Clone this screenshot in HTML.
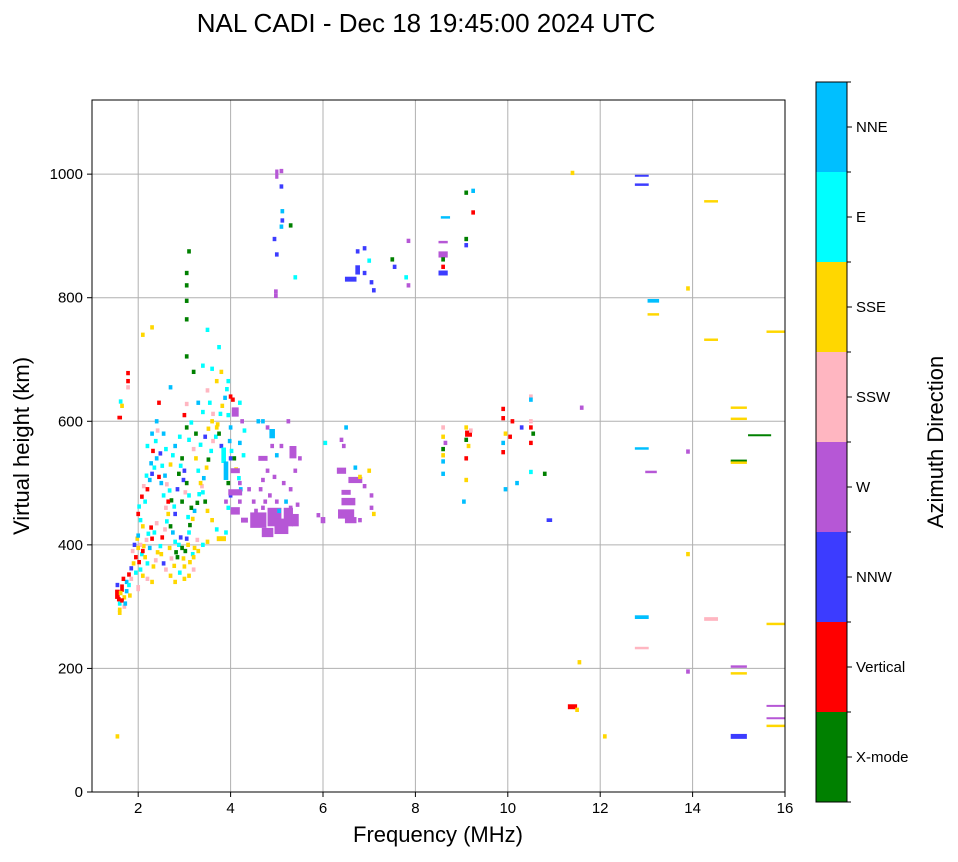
<!DOCTYPE html>
<html><head><meta charset="utf-8">
<style>
html,body{margin:0;padding:0;background:#fff;}
body{width:958px;height:857px;overflow:hidden;font-family:"Liberation Sans",sans-serif;}
</style></head>
<body>
<svg id="chart" width="958" height="857" xmlns="http://www.w3.org/2000/svg" font-family="Liberation Sans, sans-serif">
<text x="426" y="32" font-size="26" text-anchor="middle">NAL CADI - Dec 18 19:45:00 2024 UTC</text>
<g id="grid"></g>
<g id="marks"></g>
<rect x="92" y="100" width="693" height="692" fill="none" stroke="#000" stroke-width="1"/>
<g id="xticks"></g>
<g id="yticks"></g>
<text x="438" y="842" font-size="22" text-anchor="middle">Frequency (MHz)</text>
<text transform="translate(29,446) rotate(-90)" font-size="22" text-anchor="middle">Virtual height (km)</text>
<g id="cbar"></g>
<text transform="translate(943,442) rotate(-90)" font-size="22" text-anchor="middle">Azimuth Direction</text>
</svg>
<script>
const xTicks=[2,4,6,8,10,12,14,16];
const yTicks=[0,200,400,600,800,1000];
const categories=["X-mode","Vertical","NNW","W","SSW","SSE","E","NNE"];
const catColors=["#008000","#ff0000","#3c3cff","#b657d6","#ffb6c1","#ffd700","#00ffff","#00bfff"];
// [freq MHz, height km, category, widthMHz?, heightKm?]
const points=[
[1.55,320,1,0.1,15],[1.6,305,6],[1.6,295,5],[1.55,335,2],[1.65,330,1,0.08,12],[1.7,315,5],[1.6,290,5],[1.75,340,7],[1.8,352,1],[1.85,362,2],[1.7,300,4],[1.75,325,7],[1.8,335,6],[1.65,310,1],[1.9,370,5],[1.85,345,4],[1.95,380,1],[1.95,355,6],[2.0,330,4,0.08,10],[1.6,606,1,0.1,6],[1.62,632,6],[1.65,625,5],[1.78,678,1],[1.78,665,1],[1.78,655,4],[1.55,90,5],
[1.58,312,1],[1.62,322,5],[1.68,345,1],[1.72,305,7],[1.82,318,5],[1.88,390,4],[1.92,400,2],[1.98,410,5],[2.02,372,1],[2.08,385,6],[2.12,398,5],[2.18,408,4],[2.22,418,6],[2.28,428,1],[2.33,365,5],[2.38,375,4],[2.42,388,5],[2.48,398,6],[2.52,412,1],[2.58,425,4],[2.62,438,6],[2.68,395,5],[2.72,378,4],[2.78,366,5],[2.82,388,0],[2.88,400,6],[2.92,412,2],[2.98,378,5],[3.02,390,0],[3.08,400,5],[3.12,372,5],[3.18,385,6],[3.22,395,5],[3.28,408,4],[2.02,462,6],[2.08,478,1],[2.12,495,4],[2.18,512,6],[2.28,532,7],[2.32,552,1],[2.38,568,6],[2.42,585,4],[2.48,548,2],[2.52,528,6],[2.58,512,7],[2.62,498,4],[2.68,488,6],[2.72,472,0],[2.78,462,6],[2.88,515,0],[2.92,528,6],[2.98,505,2],[3.02,485,4],[3.08,445,6],[3.12,432,0],[3.18,442,5],[3.22,455,7],[3.28,468,0],[3.32,482,6],[3.38,495,4],[3.42,508,7],[3.48,525,5],[3.52,538,0],[3.58,552,6],[3.62,568,4],[3.68,575,6],[3.72,595,5],[3.78,612,6],[3.82,625,5],[3.88,638,7],[3.92,652,6],[3.98,568,7],[4.02,552,6],[4.08,540,0],[4.12,522,5],[4.18,508,6],[4.22,490,7],[4.28,545,6],[3.62,612,4],[3.52,588,5],[3.45,575,2],[3.35,562,6],[3.25,580,0],[3.15,598,6],[3.05,628,4],
[2.0,450,1],[2.05,440,6],[2.1,430,5],[2.0,415,7],[2.05,400,4],[2.1,390,1],[2.15,380,5],[2.2,370,6],[2.0,395,5],[2.05,360,6],[2.1,350,5],[2.2,345,4],[2.3,340,5],[2.25,395,7],[2.3,410,1],[2.35,420,6],[2.4,435,4],[2.15,470,6],[2.2,490,1],[2.25,505,7],[2.3,515,2],[2.35,525,6],[2.4,540,7],[2.45,510,1],[2.5,500,7],[2.55,480,6],[2.6,460,4],[2.65,450,5],[2.7,430,0],[2.75,420,7],[2.8,405,6],[2.5,385,5],[2.55,370,2],[2.6,360,4],[2.7,350,5],[2.8,340,5],[2.9,355,6],[3.0,365,5],[2.85,380,0],[2.95,395,0],[3.05,410,2],[3.1,420,6],[2.2,560,6],[2.3,580,7],[2.4,600,7],[2.45,630,1],[2.55,580,7],[2.6,555,6],[2.7,530,5],[2.75,545,6],[2.8,560,7],[2.9,575,6],[2.95,540,0],[3.0,520,2],[3.05,500,0],[3.1,480,6],[3.15,460,0],[2.95,470,0],[2.85,490,2],[2.8,450,2],[2.65,470,1],[3.0,610,1],[3.05,590,0],[3.1,570,6],[3.2,555,4],[3.25,540,5],[3.3,520,6],[3.35,500,5],[3.4,485,6],[3.45,470,0],[3.5,455,5],[3.6,440,5],[3.7,425,6],[3.8,410,5,0.2,8],[3.9,420,6],[3.2,380,5],[3.3,390,5],[3.4,400,6],[3.5,405,5],[3.0,345,5],[3.1,350,5],[3.2,360,4],[3.3,630,7],[3.4,615,6],[3.5,650,4],[3.55,630,6],[3.6,600,5],[3.7,590,5],[3.75,580,0],[3.8,560,2],[3.85,545,6,0.1,25],[3.9,520,7,0.1,30],[3.95,500,0],[4.0,480,2],[3.9,470,3],[3.95,460,6],[3.7,665,5],[3.6,685,6],[3.8,680,5],[3.95,665,6],[4.0,640,1],[4.05,635,1],[4.1,615,3,0.15,15],[4.2,630,6],[4.25,600,3],[4.3,585,6],[4.2,565,7],[3.95,610,6],[4.0,590,7],[3.1,875,0],[3.05,840,0],[3.05,820,0],[3.05,795,0],[3.05,765,0],[3.05,705,0],[3.2,680,0],[3.5,748,6],[3.4,690,6],[3.75,720,6],[2.7,655,7],[2.3,752,5],[2.1,740,5],
[4.0,540,2],[4.1,520,3,0.2,8],[4.2,500,3],[4.1,485,3,0.3,10],[4.2,470,3],[4.1,455,3,0.2,12],[4.3,440,3,0.15,8],[4.4,490,3],[4.5,470,3],[4.7,600,7],[4.8,590,3],[4.9,580,7,0.12,15],[4.9,560,3],[4.7,540,3,0.2,8],[4.8,520,3],[4.7,505,3],[4.65,490,3],
[4.6,440,3,0.35,25],[4.8,420,3,0.25,15],[4.95,445,3,0.3,30],[5.1,430,3,0.3,25],[5.25,445,3,0.2,30],[5.4,440,3,0.15,20],[4.7,460,3],[5.0,470,3],[5.2,470,7],[5.3,460,3],[5.35,550,3,0.15,20],[5.4,520,3],[5.1,560,3],[5.25,600,3],[5.0,545,7],[4.95,510,3],[5.3,490,3],
[4.55,455,3],[4.75,470,3],[5.05,455,7],[5.45,465,3],[5.15,500,3],[4.85,480,3],[5.5,540,3],[4.6,600,7],
[5.0,1000,3,0.07,15],[5.1,1005,3],[5.1,980,2],[5.12,940,7],[5.12,925,2],[5.1,915,7],[4.95,895,2],[5.0,870,2],[4.98,810,3],[5.3,917,0],[5.4,833,6],[4.98,803,3],
[6.05,565,6],[6.4,570,3],[6.45,560,3],[6.5,590,7],[6.0,440,3,0.1,10],[5.9,448,3],[6.4,520,3,0.2,10],[6.7,525,7],[6.7,505,3,0.3,10],[6.5,485,3,0.2,8],[6.55,470,3,0.3,12],[6.5,450,3,0.35,15],[6.6,440,3,0.25,10],[6.8,510,5],[6.9,495,3],[7.0,520,5],[7.05,480,3],[7.05,460,3],[7.1,450,5],[6.8,440,3],
[6.6,830,2,0.25,8],[6.75,845,2,0.1,15],[6.75,875,2],[6.9,880,2],[7.0,860,6],[6.9,840,2],[7.05,825,2],[7.1,812,2],[7.5,862,0],[7.55,850,2],[7.85,892,3],[7.8,833,6],[7.85,820,3],
[8.65,930,7,0.2,4],[8.6,890,3,0.2,4],[8.6,870,3,0.2,10],[8.6,862,0],[8.6,850,1],[8.6,840,2,0.2,8],[8.6,590,4],[8.6,575,5],[8.65,565,3],[8.6,555,0],[8.6,545,5],[8.6,535,7],[8.6,515,7],
[9.1,970,0],[9.25,973,7],[9.25,938,1],[9.1,895,0],[9.1,885,2],[9.1,590,5],[9.15,580,1,0.15,10],[9.1,570,0],[9.15,560,5],[9.1,540,1],[9.2,585,4],[9.1,505,5],[9.05,470,7],
[9.9,620,1],[9.9,605,1],[10.1,600,1],[9.95,580,5],[10.05,575,1],[9.9,565,7],[9.9,550,1],[10.3,590,2],[10.5,640,4],[10.5,635,7],[10.5,600,4],[10.5,590,1],[10.55,580,0],[10.5,565,1],[10.5,518,6],[10.2,500,7],[9.95,490,7],[10.8,515,0],[10.9,440,2,0.12,6],
[11.4,1002,5],[11.6,622,3],[11.55,210,5],[11.4,138,1,0.2,8],[11.5,133,5],[12.1,90,5],
[12.9,998,2,0.3,2],[12.9,983,2,0.3,4],[13.15,795,7,0.25,6],[13.15,773,5,0.25,4],[12.9,556,7,0.3,4],[13.1,518,3,0.25,4],[12.9,283,7,0.3,6],[12.9,233,4,0.3,4],
[13.9,815,5],[13.9,551,3],[13.9,385,5],[13.9,195,3],[14.4,956,5,0.3,4],[14.4,732,5,0.3,4],[14.4,280,4,0.3,6],
[15.0,622,5,0.35,4],[15.0,604,5,0.35,4],[15.0,536,0,0.35,4],[15.0,533,5,0.35,4],[15.0,203,3,0.35,4],[15.0,192,5,0.35,4],[15.0,90,2,0.35,8],
[15.45,578,0,0.5,2],[15.8,745,5,0.4,4],[15.8,272,5,0.4,4],[15.8,140,3,0.4,2],[15.8,120,3,0.4,2],[15.8,107,5,0.4,4]
];
const X0=92,X1=785,Y0=792,Y1=100,xMin=1,xMax=16,yMin=0,yMax=1120;
const xs=v=>X0+(v-xMin)/(xMax-xMin)*(X1-X0);
const ys=v=>Y0-(v-yMin)/(yMax-yMin)*(Y0-Y1);
const NS="http://www.w3.org/2000/svg";
function mk(tag,attrs,parent,text){const e=document.createElementNS(NS,tag);for(const k in attrs)e.setAttribute(k,attrs[k]);if(text!==undefined)e.textContent=text;parent.appendChild(e);return e;}
const grid=document.getElementById('grid'),xt=document.getElementById('xticks'),yt=document.getElementById('yticks'),marks=document.getElementById('marks'),cb=document.getElementById('cbar');
xTicks.forEach(t=>{const x=xs(t);
 const g=mk('line',{x1:x,x2:x,y1:Y1,y2:Y0,stroke:'#b0b0b0','stroke-width':1},grid);
 
 mk('line',{x1:x,x2:x,y1:Y0,y2:Y0+5,stroke:'#000'},xt);
 const l=mk('text',{x:x,y:Y0+21,'font-size':15,'text-anchor':'middle'},xt,String(t));
 });
yTicks.forEach(t=>{const y=ys(t);
 const g=mk('line',{x1:X0,x2:X1,y1:y,y2:y,stroke:'#b0b0b0','stroke-width':1},grid);
 
 mk('line',{x1:X0-5,x2:X0,y1:y,y2:y,stroke:'#000'},yt);
 const l=mk('text',{x:X0-9,y:y+5,'font-size':15,'text-anchor':'end'},yt,String(t));
 });
points.forEach(p=>{const w=p[3]||0.08,h=p[4]||7;
 const x=xs(p[0]-w/2),y=ys(p[1]+h/2);
 const r=mk('rect',{x:x,y:y,width:Math.max(2,xs(p[0]+w/2)-x),height:Math.max(2,ys(p[1]-h/2)-y),fill:catColors[p[2]]},marks);
 });
const cbTop=82,cbBot=802,cbX=816,cbW=31,seg=(cbBot-cbTop)/categories.length;
categories.forEach((c,i)=>{const y=cbBot-(i+1)*seg;
 const r=mk('rect',{x:cbX,y:y,width:cbW,height:seg,fill:catColors[i]},cb);
 
 mk('line',{x1:cbX+cbW,x2:cbX+cbW+5,y1:y+seg/2,y2:y+seg/2,stroke:'#000'},cb);
 const l=mk('text',{x:cbX+cbW+9,y:y+seg/2+5,'font-size':15},cb,c);
 });
for(let i=0;i<=categories.length;i++){const y=cbTop+i*seg;mk('line',{x1:cbX+cbW,x2:cbX+cbW+4,y1:y,y2:y,stroke:'#000'},cb);}
mk('rect',{x:cbX,y:cbTop,width:cbW,height:cbBot-cbTop,fill:'none',stroke:'#000'},cb);
</script>
</body></html>
